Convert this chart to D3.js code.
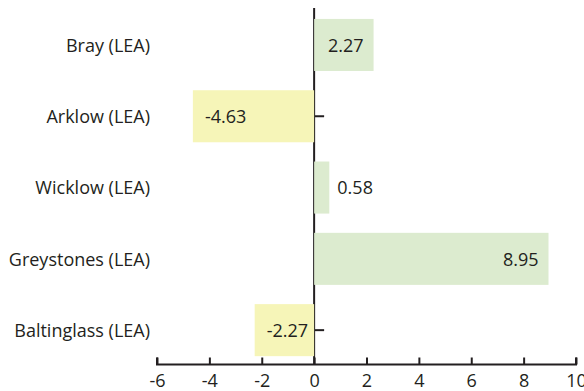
<!DOCTYPE html>
<html><head><meta charset="utf-8">
<script src="https://cdn.jsdelivr.net/npm/d3@7"></script>
<style>body{margin:0;background:#fff}svg text{font-family:"Open Sans",sans-serif;fill:#231f20}</style>
</head><body><svg id="c" width="584" height="391"></svg>
<script>
const categories = ["Bray (LEA)", "Arklow (LEA)", "Wicklow (LEA)", "Greystones (LEA)", "Baltinglass (LEA)"];
const values = [2.27, -4.63, 0.58, 8.95, -2.27];
const xTicks = [-6, -4, -2, 0, 2, 4, 6, 8, 10];

const svg = d3.select("#c");
const x = d3.scaleLinear().domain([-6, 10]).range([157, 576]);
const y = d3.scaleBand().domain(categories).range([9.3, 365.8]).paddingInner(0.27).paddingOuter(0.135);
const fs = 18;
const posColor = "#dcebcf", negColor = "#f6f5b8";
const axisY = 364.5;

// y axis (drawn first so bars cover ticks)
const ya = svg.append("g").attr("transform", `translate(${x(0)},0)`)
  .call(d3.axisRight(y).tickSize(10).tickFormat(""));
ya.selectAll("path,line").attr("stroke", "#231f20").attr("stroke-width", 2);
ya.select("path").attr("d", `M0,8V${axisY}`);

// bars
svg.selectAll("rect.bar").data(values).enter().append("rect")
  .attr("x", d => x(Math.min(0, d)))
  .attr("y", (d, i) => y(categories[i]))
  .attr("width", d => Math.abs(x(d) - x(0)))
  .attr("height", y.bandwidth())
  .attr("fill", d => d >= 0 ? posColor : negColor);

// x axis
const xa = svg.append("g").attr("transform", `translate(0,${axisY})`)
  .call(d3.axisTop(x).tickValues(xTicks).tickSize(7).tickFormat(d => String(d)));
xa.selectAll("path,line").attr("stroke", "#231f20").attr("stroke-width", 2);
xa.select("path").attr("d", `M${x(-6)},-7V0H${x(10)}V-7`);
xa.selectAll("text").attr("y", 22).attr("dy", "0").style("font-size", fs + "px").attr("fill", "#231f20")
  .attr("font-family", "Open Sans");

// category labels
svg.selectAll("text.cat").data(categories).enter().append("text")
  .attr("x", 150).attr("y", d => y(d) + y.bandwidth() / 2)
  .attr("dy", "0.38em").attr("text-anchor", "end").style("font-size", fs + "px").text(d => d);

// value labels
svg.selectAll("text.val").data(values).enter().append("text")
  .attr("y", (d, i) => y(categories[i]) + y.bandwidth() / 2).attr("dy", "0.38em")
  .style("font-size", fs + "px")
  .each(function (d) {
    const t = d3.select(this).text(d.toFixed(2));
    const w = Math.abs(x(d) - x(0));
    if (w < 50) t.attr("x", x(d) + 8).attr("text-anchor", "start");
    else if (d >= 0) t.attr("x", x(d) - 10).attr("text-anchor", "end");
    else t.attr("x", x(d) + 12).attr("text-anchor", "start");
  });
</script></body></html>
